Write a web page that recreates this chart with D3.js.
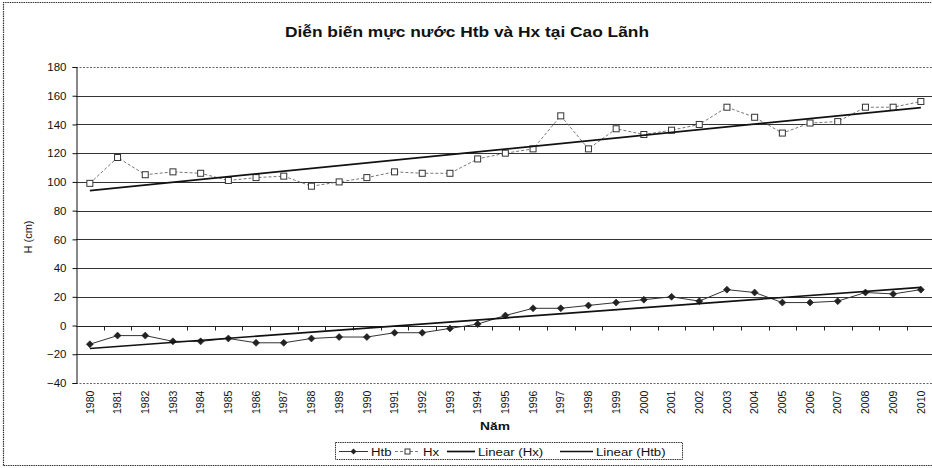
<!DOCTYPE html>
<html>
<head>
<meta charset="utf-8">
<script src="https://cdn.jsdelivr.net/npm/d3@7"></script>
<style>
  html, body { margin: 0; padding: 0; background: #fff; }
  svg { display: block; }
  text { font-family: "Liberation Sans", Arial, sans-serif; fill: #111; }
</style>
</head>
<body>
<svg id="chart" width="932" height="468"></svg>
<script>
// Yearly water levels at Cao Lãnh (cm)
const years = d3.range(1980, 2011).map(String);
const htb = [-13, -7, -7, -11, -11, -9, -12, -12, -9, -8, -8, -5, -5, -2, 1, 7,
             12, 12, 14, 16, 18, 20, 17, 25, 23, 16, 16, 17, 23, 22, 25];
const hx = [99, 117, 105, 107, 106, 101, 103, 104, 97, 100, 103, 107, 106, 106, 116, 120,
            123, 146, 123, 137, 133, 136, 140, 152, 145, 134, 141, 142, 152, 152, 156];
const yTicks = [-40, -20, 0, 20, 40, 60, 80, 100, 120, 140, 160, 180];
const titleText = "Diễn biến mực nước Htb và Hx tại Cao Lãnh";
const xTitle = "Năm";
const yTitle = "H (cm)";
const legendLabels = ["Htb", "Hx", "Linear (Hx)", "Linear (Htb)"];

const svg = d3.select("#chart");
const W = 932, H = 468;
const plot = { left: 76, top: 67, bottom: 383, band: 27.7 };
plot.right = plot.left + plot.band * years.length;
const stretch = 1.2; // wide lettering used for the horizontal captions

const x = d3.scaleBand().domain(years).range([plot.left, plot.right]).paddingInner(0).paddingOuter(0);
const y = d3.scaleLinear().domain([-40, 180]).range([plot.bottom, plot.top]);
const cx = d => x(d) + x.bandwidth() / 2;

// Outer chart frame (dotted)
svg.append("path")
  .attr("d", `M3.5,${H - 2.5} V2.5 H${W + 5} M3.5,${H - 2.5} H${W + 5}`)
  .attr("fill", "none").attr("stroke", "#333").attr("stroke-width", 1.2)
  .attr("stroke-dasharray", "1.5,0.8");

// Title
svg.append("text").attr("transform", `translate(467,37) scale(${stretch + 0.04},1)`)
  .attr("text-anchor", "middle")
  .style("font-size", "14px").style("font-weight", "bold").text(titleText);

// Horizontal gridlines
const grid = svg.append("g");
yTicks.forEach(v => {
  const edge = v === 180 || v === -40;
  grid.append("line")
    .attr("x1", plot.left).attr("x2", plot.right)
    .attr("y1", Math.round(y(v)) + 0.5).attr("y2", Math.round(y(v)) + 0.5)
    .attr("stroke", edge ? "#666" : "#333")
    .attr("stroke-width", 1)
    .attr("stroke-dasharray", edge ? "2,1.5" : null);
});

// Value axis
const yAxis = svg.append("g").attr("transform", `translate(${plot.left + 0.5},0)`)
  .call(d3.axisLeft(y).tickValues(yTicks).tickSize(4).tickPadding(6));
yAxis.select(".domain").attr("stroke", "#111");
yAxis.selectAll(".tick line").attr("stroke", "#111");
yAxis.selectAll("text").style("font-size", "11.5px").attr("fill", "#111")
  .style("font-family", "'Liberation Sans', Arial, sans-serif");

// Category axis crossing at 0, ticks between categories
const y0 = Math.round(y(0)) + 0.5;
const xAx = svg.append("g");
xAx.append("line").attr("x1", plot.left).attr("x2", plot.right)
  .attr("y1", y0).attr("y2", y0).attr("stroke", "#222");
years.forEach((d, i) => {
  if (i === 0) return;
  const tx = Math.round(x(d)) + 0.5;
  xAx.append("line").attr("x1", tx).attr("x2", tx).attr("y1", y0).attr("y2", y0 + 4)
    .attr("stroke", "#222");
});
// Category labels at the low end of the plot
svg.append("g").selectAll("text").data(years).join("text")
  .attr("transform", d => `translate(${cx(d)},${plot.bottom + 31}) rotate(-90)`)
  .attr("dy", "0.35em").attr("text-anchor", "start")
  .style("font-size", "10.5px").text(d => d);

// Axis titles
svg.append("text").attr("transform", `translate(495,430) scale(${stretch},1)`)
  .attr("text-anchor", "middle")
  .style("font-size", "11.5px").style("font-weight", "bold").text(xTitle);
svg.append("text").attr("transform", `translate(32,237) rotate(-90)`)
  .attr("text-anchor", "middle").style("font-size", "11px").text(yTitle);

// Least-squares trend of a series over the category index
function trend(vals) {
  const n = vals.length, idx = d3.range(n);
  const mx = d3.mean(idx), my = d3.mean(vals);
  const b = d3.sum(idx, i => (i - mx) * (vals[i] - my)) / d3.sum(idx, i => (i - mx) ** 2);
  const a = my - b * mx;
  return idx.map(i => a + b * i);
}

const line = d3.line().x((v, i) => cx(years[i])).y(v => y(v));

// Hx series: grey dashed line with hollow squares
svg.append("path").datum(hx).attr("d", line).attr("fill", "none")
  .attr("stroke", "#777").attr("stroke-width", 1).attr("stroke-dasharray", "3,2");
svg.append("g").selectAll("rect").data(hx).join("rect")
  .attr("x", (v, i) => cx(years[i]) - 3).attr("y", v => y(v) - 3)
  .attr("width", 6).attr("height", 6)
  .attr("fill", "#fff").attr("stroke", "#333").attr("stroke-width", 1);

// Htb series: dark line with filled diamonds
svg.append("path").datum(htb).attr("d", line).attr("fill", "none")
  .attr("stroke", "#333").attr("stroke-width", 1);
svg.append("g").selectAll("path").data(htb).join("path")
  .attr("transform", (v, i) => `translate(${cx(years[i])},${y(v)})`)
  .attr("d", "M0,-3.5 L3.5,0 L0,3.5 L-3.5,0 Z")
  .attr("fill", "#222").attr("stroke", "#222").attr("stroke-width", 0.6);

// Linear trend lines
[hx, htb].forEach(s => {
  const t = trend(s);
  svg.append("path").datum([t[0], t[t.length - 1]])
    .attr("d", d3.line().x((v, i) => cx(years[i === 0 ? 0 : years.length - 1])).y(v => y(v)))
    .attr("fill", "none").attr("stroke", "#111").attr("stroke-width", 1.7);
});

// Legend
const lg = svg.append("g");
lg.append("rect").attr("x", 335.5).attr("y", 442.5).attr("width", 347).attr("height", 17)
  .attr("fill", "#fff").attr("stroke", "#333").attr("stroke-dasharray", "1.5,0.8");
const ly = 451.5;
const items = [
  { x1: 339, x2: 368, label: legendLabels[0], kind: "htb" },
  { x1: 395, x2: 420, label: legendLabels[1], kind: "hx" },
  { x1: 447, x2: 475, label: legendLabels[2], kind: "lin" },
  { x1: 560, x2: 593, label: legendLabels[3], kind: "lin" }
];
items.forEach(it => {
  const ln = lg.append("line").attr("x1", it.x1).attr("x2", it.x2).attr("y1", ly).attr("y2", ly);
  const mid = (it.x1 + it.x2) / 2;
  if (it.kind === "htb") {
    ln.attr("stroke", "#333");
    lg.append("path").attr("transform", `translate(${mid},${ly})`)
      .attr("d", "M0,-3 L3,0 L0,3 L-3,0 Z").attr("fill", "#222");
  } else if (it.kind === "hx") {
    ln.attr("stroke", "#777").attr("stroke-dasharray", "3,2");
    lg.append("rect").attr("x", mid - 2.5).attr("y", ly - 2.5).attr("width", 5).attr("height", 5)
      .attr("fill", "#fff").attr("stroke", "#333");
  } else {
    ln.attr("stroke", "#111").attr("stroke-width", 1.7);
  }
  lg.append("text").attr("transform", `translate(${it.x2 + 3},${ly + 4}) scale(${stretch},1)`)
    .style("font-size", "11px").text(it.label);
});
</script>
</body>
</html>
